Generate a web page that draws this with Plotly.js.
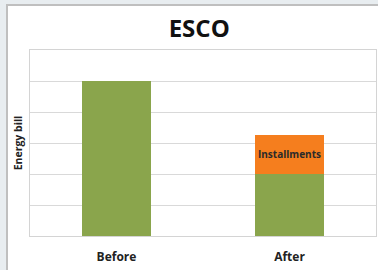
<!DOCTYPE html>
<html>
<head>
<meta charset="utf-8">
<script src="https://cdn.plot.ly/plotly-3.0.1.min.js"></script>
<style>html,body{margin:0;padding:0;background:#E8EDF0;}#chart{width:378px;height:270px;}</style>
</head>
<body>
<div id="chart"></div>
<script>
const categories = ['Before', 'After'];
const energyBill = [5, 2];
const installments = [0, 1.25];
const installmentLabels = ['', 'Installments'];

const traces = [
  {
    type: 'bar', x: categories, y: energyBill, name: 'Energy bill',
    marker: {color: '#8AA54C'}, width: 0.4, hoverinfo: 'none'
  },
  {
    type: 'bar', x: categories, y: installments, name: 'Installments',
    marker: {color: '#F57E1E'}, width: 0.4,
    text: installmentLabels, textposition: 'inside', insidetextanchor: 'middle',
    textangle: 0,
    textfont: {family: 'Open Sans, Lato, sans-serif', size: 10.5, color: '#2a2a2a', weight: 'bold'},
    hoverinfo: 'none'
  }
];

const layout = {
  width: 378, height: 270,
  barmode: 'stack',
  showlegend: false,
  paper_bgcolor: '#E8EDF0',
  plot_bgcolor: '#FFFFFF',
  margin: {l: 30, r: 2, t: 50, b: 34},
  font: {family: 'Open Sans, Lato, sans-serif', color: '#222'},
  title: {
    text: '<b>ESCO</b>', x: 0.527, xanchor: 'center', y: 0.895, yanchor: 'middle',
    font: {family: 'Open Sans, Lato, sans-serif', size: 24, color: '#111'}
  },
  shapes: [{
    type: 'rect', xref: 'paper', yref: 'paper', layer: 'below',
    x0: -23 / 346, x1: 1.2, y0: -0.3, y1: 1 + 45 / 186,
    fillcolor: '#FFFFFF', line: {color: '#BFBFBF', width: 2}
  }],
  xaxis: {
    type: 'category', range: [-0.5, 1.5],
    showline: true, mirror: true, linecolor: '#D4D4D4', linewidth: 1,
    ticks: 'outside', ticklen: 10, tickcolor: 'rgba(0,0,0,0)', showgrid: false,
    tickfont: {family: 'Open Sans, Lato, sans-serif', size: 12, color: '#222', weight: 'bold'}
  },
  yaxis: {
    range: [0, 6], dtick: 1, showticklabels: false, ticks: '',
    showgrid: true, gridcolor: '#D9D9D9', gridwidth: 1,
    showline: true, mirror: true, linecolor: '#D4D4D4', linewidth: 1,
    zeroline: false,
    title: {text: '<b>Energy bill</b>', standoff: 4,
            font: {family: 'Open Sans, Lato, sans-serif', size: 10.5, color: '#222'}}
  }
};

Plotly.newPlot('chart', traces, layout, {displayModeBar: false, staticPlot: true});
</script>
</body>
</html>
